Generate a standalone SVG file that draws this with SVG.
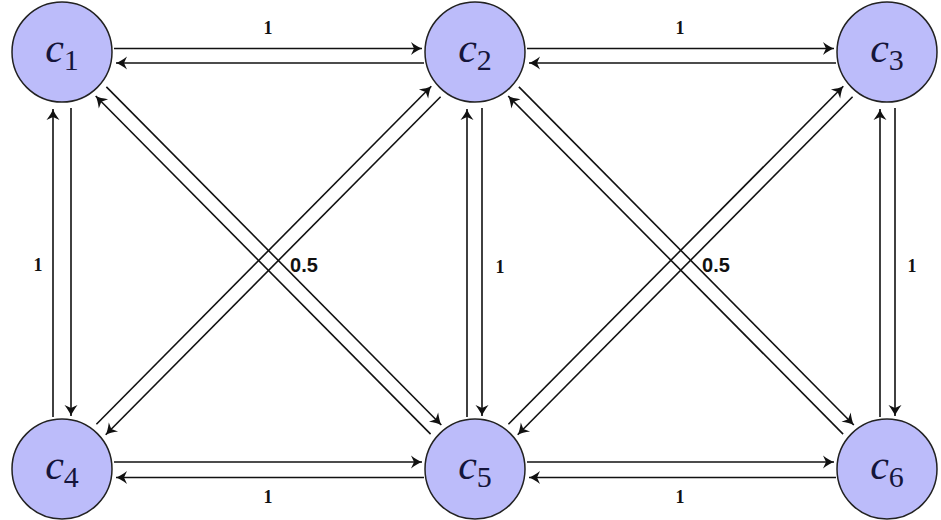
<svg xmlns="http://www.w3.org/2000/svg" width="941" height="520" viewBox="0 0 941 520">
<style>
.node{fill:#bcbcfa;stroke:#222;stroke-width:1.5}
.lbl{font-family:'Liberation Serif','Times New Roman',serif;fill:#15153a}
.e{stroke:#111;stroke-width:1.6;fill:none;marker-end:url(#arr)}
.w{font-family:'Liberation Serif','Times New Roman',serif;font-weight:bold;font-size:18px;fill:#111;text-anchor:middle}
.h{font-family:'Liberation Sans',Arial,sans-serif;font-weight:bold;font-size:20px;fill:#111;text-anchor:middle}
</style>
<defs>
<marker id="arr" markerUnits="userSpaceOnUse" markerWidth="14" markerHeight="14" viewBox="-12 -7 14 14" refX="0" refY="0" orient="auto">
<path d="M0,0 C-3,-1 -7,-3.5 -11,-6.5 L-8,0 L-11,6.5 C-7,3.5 -3,1 0,0 Z" fill="#111"/>
</marker>
</defs>
<g id="connectors">
<line class="e" x1="114" y1="48.5" x2="422" y2="48.5"/>
<line class="e" x1="424" y1="63" x2="116" y2="63"/>
<line class="e" x1="527" y1="48.5" x2="834" y2="48.5"/>
<line class="e" x1="836" y1="63" x2="529" y2="63"/>
<line class="e" x1="114" y1="462" x2="422" y2="462"/>
<line class="e" x1="424" y1="477.5" x2="116" y2="477.5"/>
<line class="e" x1="527" y1="462" x2="834" y2="462"/>
<line class="e" x1="836" y1="477.5" x2="529" y2="477.5"/>
<line class="e" x1="53" y1="417" x2="53" y2="109"/>
<line class="e" x1="71" y1="108" x2="71" y2="416"/>
<line class="e" x1="467" y1="417" x2="467" y2="109"/>
<line class="e" x1="482" y1="108" x2="482" y2="416"/>
<line class="e" x1="880" y1="417" x2="880" y2="109"/>
<line class="e" x1="895" y1="108" x2="895" y2="416"/>
<line class="e" x1="106.4" y1="86.9" x2="441.3" y2="425"/>
<line class="e" x1="430.6" y1="434.1" x2="95.7" y2="96"/>
<line class="e" x1="518.9" y1="86.9" x2="853.8" y2="425"/>
<line class="e" x1="843.1" y1="434.1" x2="508.2" y2="96"/>
<line class="e" x1="96.4" y1="424.3" x2="431.3" y2="86.2"/>
<line class="e" x1="440.6" y1="96.7" x2="105.7" y2="434.8"/>
<line class="e" x1="508.4" y1="424.3" x2="843.3" y2="86.2"/>
<line class="e" x1="852.6" y1="96.7" x2="517.7" y2="434.8"/>
<text class="w" x="268" y="34">1</text>
<text class="w" x="680" y="34">1</text>
<text class="w" x="38" y="271">1</text>
<text class="w" x="500" y="273">1</text>
<text class="w" x="912" y="272">1</text>
<text class="w" x="268" y="503">1</text>
<text class="w" x="680" y="503">1</text>
<text class="h" x="304" y="272">0.5</text>
<text class="h" x="716" y="272">0.5</text>
</g>
<g id="c1"><circle class="node" cx="62" cy="52" r="50"/><text class="lbl" x="62" y="62" text-anchor="middle"><tspan font-style="italic" font-size="42">c</tspan><tspan font-size="30" dy="8">1</tspan></text></g>
<g id="c2"><circle class="node" cx="475" cy="52" r="50"/><text class="lbl" x="475" y="62" text-anchor="middle"><tspan font-style="italic" font-size="42">c</tspan><tspan font-size="30" dy="8">2</tspan></text></g>
<g id="c3"><circle class="node" cx="887" cy="52" r="50"/><text class="lbl" x="887" y="62" text-anchor="middle"><tspan font-style="italic" font-size="42">c</tspan><tspan font-size="30" dy="8">3</tspan></text></g>
<g id="c4"><circle class="node" cx="62" cy="469" r="50"/><text class="lbl" x="62" y="479" text-anchor="middle"><tspan font-style="italic" font-size="42">c</tspan><tspan font-size="30" dy="8">4</tspan></text></g>
<g id="c5"><circle class="node" cx="475" cy="469" r="50"/><text class="lbl" x="475" y="479" text-anchor="middle"><tspan font-style="italic" font-size="42">c</tspan><tspan font-size="30" dy="8">5</tspan></text></g>
<g id="c6"><circle class="node" cx="887" cy="469" r="50"/><text class="lbl" x="887" y="479" text-anchor="middle"><tspan font-style="italic" font-size="42">c</tspan><tspan font-size="30" dy="8">6</tspan></text></g>
</svg>
